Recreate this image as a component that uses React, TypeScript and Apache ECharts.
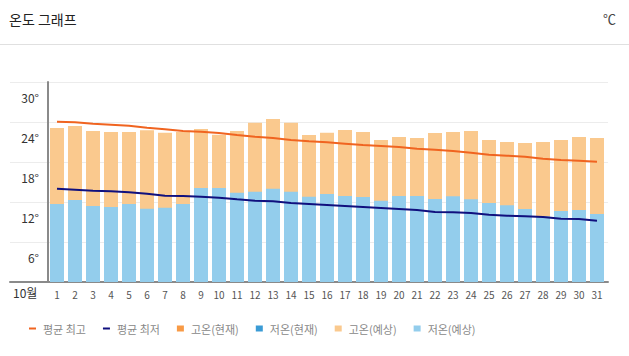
import React, { useEffect, useRef } from 'react';
import * as echarts from 'echarts';

const days = ['1','2','3','4','5','6','7','8','9','10','11','12','13','14','15','16','17','18','19','20','21','22','23','24','25','26','27','28','29','30','31'];
const yTicks = [0, 6, 12, 18, 24, 30];
const avgHigh = [24.05, 23.95, 23.75, 23.6, 23.45, 23.15, 22.9, 22.65, 22.55, 22.35, 22.05, 21.8, 21.6, 21.3, 21.1, 20.95, 20.75, 20.55, 20.4, 20.25, 20.0, 19.85, 19.65, 19.4, 19.1, 18.95, 18.8, 18.5, 18.3, 18.2, 18.05];
const avgLow = [14.0, 13.85, 13.7, 13.6, 13.45, 13.25, 12.95, 12.9, 12.8, 12.65, 12.4, 12.2, 12.1, 11.85, 11.7, 11.55, 11.4, 11.25, 11.1, 10.95, 10.8, 10.5, 10.45, 10.35, 10.1, 9.95, 9.85, 9.75, 9.5, 9.45, 9.2];
const highNow: number[] = [];
const lowNow: number[] = [];
const highForecast = [23.1, 23.4, 22.65, 22.5, 22.5, 22.75, 22.4, 22.5, 22.95, 22.1, 22.65, 23.9, 24.45, 23.9, 22.05, 22.4, 22.8, 22.5, 21.3, 21.75, 21.6, 22.35, 22.5, 22.65, 21.3, 21.0, 20.85, 21.0, 21.3, 21.75, 21.6];
const lowForecast = [11.7, 12.3, 11.4, 11.25, 11.7, 11.0, 11.15, 11.7, 14.1, 14.1, 13.4, 13.55, 14.0, 13.55, 12.8, 13.2, 12.9, 12.75, 12.2, 12.9, 12.9, 12.45, 12.85, 12.4, 11.85, 11.5, 10.95, 9.85, 10.65, 10.8, 10.2];

const FONT = '"Noto Sans CJK KR", "Noto Sans", sans-serif';
const DASH = 'path://M0,0h7v2h-7z';

export default function App() {
  const ref = useRef<HTMLDivElement>(null);
  useEffect(() => {
    if (!ref.current) return;
    const chart = echarts.init(ref.current, undefined, { renderer: 'svg' });
    const yMin = yTicks[0];
    const yMax = yTicks[yTicks.length - 1];
    const step = yTicks[1] - yTicks[0];
    const barCommon = { type: 'bar', xAxisIndex: 1, yAxisIndex: 1, barWidth: 14, barGap: '-100%' };
    chart.setOption({
      animation: false,
      textStyle: { fontFamily: FONT },
      graphic: [
        { type: 'text', left: 9, top: 12, style: { text: '온도 그래프', font: `14px ${FONT}`, fill: '#222' } },
        { type: 'text', right: 13, top: 12, style: { text: '℃', font: `13px ${FONT}`, fill: '#444' } },
        { type: 'line', shape: { x1: 0, y1: 44.5, x2: 629, y2: 44.5 }, style: { stroke: '#e0e0e0', lineWidth: 1 } },
        { type: 'text', left: 13, top: 286, style: { text: '10월', font: `12px ${FONT}`, fill: '#333' } },
      ],
      legend: {
        left: 24,
        top: 318,
        itemWidth: 7,
        itemHeight: 6,
        itemGap: 17,
        symbolKeepAspect: true,
        textStyle: { fontSize: 11, color: '#888', fontFamily: FONT, padding: [0, 0, 0, 2] },
        data: [
          { name: '평균 최고', icon: DASH },
          { name: '평균 최저', icon: DASH },
          { name: '고온(현재)', icon: 'rect' },
          { name: '저온(현재)', icon: 'rect' },
          { name: '고온(예상)', icon: 'rect' },
          { name: '저온(예상)', icon: 'rect' },
        ],
      },
      grid: [
        { left: 10, right: 21, top: 82, bottom: 74 },
        { left: 48, right: 23, top: 82, bottom: 74 },
      ],
      xAxis: [
        {
          gridIndex: 0, type: 'value', min: 0, max: 1,
          axisLine: { show: true, onZero: false, lineStyle: { color: '#8a8a8a', width: 2 } },
          axisTick: { show: false }, axisLabel: { show: false }, splitLine: { show: false },
        },
        {
          gridIndex: 1, type: 'category', data: days,
          axisLine: { show: false }, axisTick: { show: false },
          axisLabel: { color: '#555', fontSize: 10, margin: 7, interval: 0, fontFamily: FONT },
        },
      ],
      yAxis: [
        {
          gridIndex: 0, type: 'value', min: yMin, max: yMax, interval: step,
          axisLine: { show: false }, axisTick: { show: false }, axisLabel: { show: false },
          splitLine: { show: true, lineStyle: { color: '#ececec', width: 1 } },
        },
        {
          gridIndex: 1, type: 'value', min: yMin, max: yMax, interval: step,
          axisLine: { show: true, lineStyle: { color: '#8a8a8a', width: 2 } },
          axisTick: { show: false },
          splitLine: { show: false },
          axisLabel: {
            color: '#333', fontSize: 12, margin: 9, fontFamily: FONT,
            verticalAlign: 'top', lineHeight: 30,
            formatter: (v: number) => (v === 0 ? '' : `${v}°`),
          },
        },
      ],
      series: [
        { name: '평균 최고', type: 'line', xAxisIndex: 1, yAxisIndex: 1, data: avgHigh, symbol: 'none', z: 5, lineStyle: { color: '#f06420', width: 2 }, itemStyle: { color: '#f06420' } },
        { name: '평균 최저', type: 'line', xAxisIndex: 1, yAxisIndex: 1, data: avgLow, symbol: 'none', z: 5, lineStyle: { color: '#10107e', width: 2 }, itemStyle: { color: '#10107e' } },
        { ...barCommon, name: '고온(현재)', data: highNow, itemStyle: { color: '#f89a45' } },
        { ...barCommon, name: '저온(현재)', data: lowNow, itemStyle: { color: '#3a9bd5' } },
        { ...barCommon, name: '고온(예상)', data: highForecast, itemStyle: { color: '#fac98e' } },
        { ...barCommon, name: '저온(예상)', data: lowForecast, itemStyle: { color: '#93cdec' } },
      ],
    });
    return () => chart.dispose();
  }, []);
  return <div ref={ref} style={{ position: 'fixed', left: 0, top: 0, width: 629, height: 356, background: '#fff' }} />;
}
